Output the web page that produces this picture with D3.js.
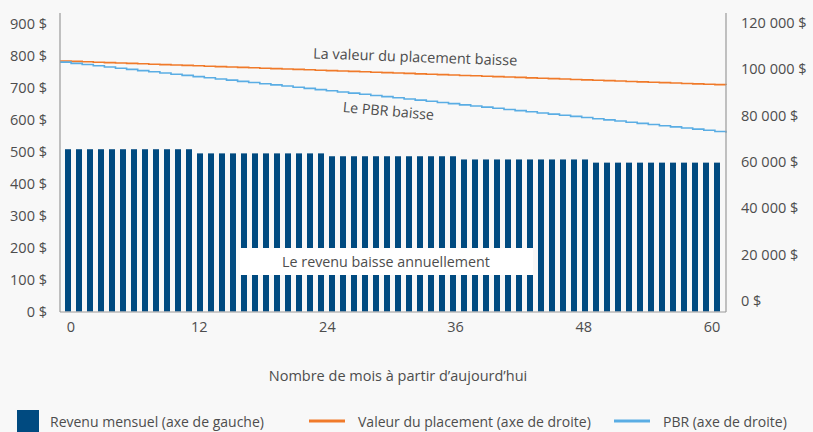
<!DOCTYPE html>
<html><head><meta charset="utf-8">
<script src="https://cdn.jsdelivr.net/npm/d3@7"></script>
<style>
html,body{margin:0;padding:0;background:#f8f8f8;}
svg{display:block;font-family:"Open Sans",sans-serif;}
</style></head><body>
<svg id="c" width="813" height="432"></svg>
<script>
const months = d3.range(0, 60);
const income = [
 508,508,508,508,508,508,508,508,508,508,508,508,
 495,495,495,495,495,495,495,495,495,495,495,495,
 486,486,486,486,486,486,486,486,486,486,486,486,
 476,476,476,476,476,476,476,476,476,476,476,476,
 466,466,466,466,466,466,466,466,466,466,466,466];
const placement = [103600,103430,103250,103080,102910,102740,102560,102390,102220,102040,
 101870,101700,101520,101350,101180,101010,100830,100660,100490,100310,
 100140,99970,99790,99620,99450,99280,99100,98930,98760,98580,
 98410,98240,98060,97890,97720,97550,97370,97200,97030,96850,
 96680,96510,96330,96160,95990,95820,95640,95470,95300,95120,
 94950,94780,94600,94430,94260,94090,93910,93740,93570,93390,93220];
const pbr = [103100,102580,102060,101540,101020,100500,99980,99460,98940,98420,
 97900,97380,96860,96350,95840,95330,94820,94310,93800,93290,
 92780,92270,91760,91250,90740,90235,89730,89225,88720,88215,
 87710,87205,86700,86195,85690,85185,84680,84180,83680,83180,
 82680,82180,81680,81180,80680,80180,79680,79180,78680,78180,
 77680,77180,76680,76180,75680,75180,74680,74180,73680,73180,72680];
const xTicks = [0, 12, 24, 36, 48, 60];
const leftTicks = [0,100,200,300,400,500,600,700,800,900];
const rightTicks = [0,20000,40000,60000,80000,100000,120000];
const legendItems = ["Revenu mensuel (axe de gauche)", "Valeur du placement (axe de droite)", "PBR (axe de droite)"];

const C = {bar:"#004a80", orange:"#f07a2a", blue:"#5aade4", text:"#4d4d4d", axis:"#9a9a9a"};
const svg = d3.select("#c");
const fmt = v => d3.format(",")(v).replace(/,/g, " ") + " $";

const xBand = d3.scaleBand().domain(months).range([62.5, 722.5]).paddingInner(0.4545).paddingOuter(0.2273);
const xLine = d3.scaleLinear().domain([0, 60]).range([60, 726]);
const xLab = d3.scaleLinear().domain([0, 60]).range([70.5, 711.5]);
const yL = d3.scaleLinear().domain([0, 900]).range([311.5, 24]);
const yR = d3.scaleLinear().domain([0, 120000]).range([301, 23]);

// bars
svg.append("g").selectAll("rect").data(income).join("rect")
  .attr("x", (d,i) => xBand(months[i]))
  .attr("width", xBand.bandwidth())
  .attr("y", d => yL(d))
  .attr("height", d => yL(0) - yL(d))
  .attr("fill", C.bar);

// annotation box
svg.append("rect").attr("x", 240).attr("y", 248).attr("width", 293).attr("height", 27).attr("fill", "#fff");
svg.append("text").attr("x", 386).attr("y", 266.5).attr("text-anchor","middle")
  .attr("font-size", 14.3).attr("fill", C.text).text("Le revenu baisse annuellement");

// lines
const line = d3.line().x((d,i) => xLine(i)).y(d => yR(d)).curve(d3.curveStepAfter);
svg.append("path").datum(placement).attr("d", line).attr("fill","none").attr("stroke", C.orange).attr("stroke-width", 1.6);
svg.append("path").datum(pbr).attr("d", line).attr("fill","none").attr("stroke", C.blue).attr("stroke-width", 1.6);

svg.append("text").attr("transform","translate(415,62) rotate(2)").attr("text-anchor","middle")
  .attr("font-size", 14.5).attr("fill", C.text).text("La valeur du placement baisse");
svg.append("text").attr("transform","translate(388,116) rotate(5)").attr("text-anchor","middle")
  .attr("font-size", 14.3).attr("fill", C.text).text("Le PBR baisse");

// axes lines
const ax = svg.append("g").attr("stroke", C.axis).attr("stroke-width", 1.2);
ax.append("line").attr("x1",60).attr("x2",60).attr("y1",13).attr("y2",312);
ax.append("line").attr("x1",726).attr("x2",726).attr("y1",13).attr("y2",312);
ax.append("line").attr("x1",60).attr("x2",726).attr("y1",312).attr("y2",312);

// left axis labels
const gl = svg.append("g").attr("transform","translate(47,0)")
  .call(d3.axisLeft(yL).tickValues(leftTicks).tickSize(0).tickPadding(0).tickFormat(fmt));
gl.select(".domain").remove();
gl.selectAll("text").attr("font-size", 14.5).attr("fill", C.text).attr("font-family","Open Sans");

// right axis labels
const gr = svg.append("g").attr("transform","translate(741,0)")
  .call(d3.axisRight(yR).tickValues(rightTicks).tickSize(0).tickPadding(0).tickFormat(fmt));
gr.select(".domain").remove();
gr.selectAll("text").attr("font-size", 14.5).attr("fill", C.text).attr("font-family","Open Sans");

// bottom axis labels
const gb = svg.append("g").attr("transform","translate(0,322)")
  .call(d3.axisBottom(xLab).tickValues(xTicks).tickSize(0).tickPadding(0).tickFormat(d3.format("d")));
gb.select(".domain").remove();
gb.selectAll("text").attr("font-size", 14.5).attr("fill", C.text).attr("font-family","Open Sans");

svg.append("text").attr("x", 398).attr("y", 381).attr("text-anchor","middle")
  .attr("font-size", 14.5).attr("fill", C.text).text("Nombre de mois à partir d\u2019aujourd\u2019hui");

// legend
const lg = svg.append("g");
lg.append("rect").attr("x",17).attr("y",410).attr("width",22).attr("height",22).attr("fill",C.bar);
lg.append("text").attr("x",50).attr("y",427).attr("font-size",14).attr("fill",C.text).text(legendItems[0]);
lg.append("line").attr("x1",309).attr("x2",345).attr("y1",421).attr("y2",421).attr("stroke",C.orange).attr("stroke-width",3);
lg.append("text").attr("x",358).attr("y",427).attr("font-size",14).attr("fill",C.text).text(legendItems[1]);
lg.append("line").attr("x1",614).attr("x2",650).attr("y1",421).attr("y2",421).attr("stroke",C.blue).attr("stroke-width",3);
lg.append("text").attr("x",663).attr("y",427).attr("font-size",14).attr("fill",C.text).text(legendItems[2]);
</script>
</body></html>
